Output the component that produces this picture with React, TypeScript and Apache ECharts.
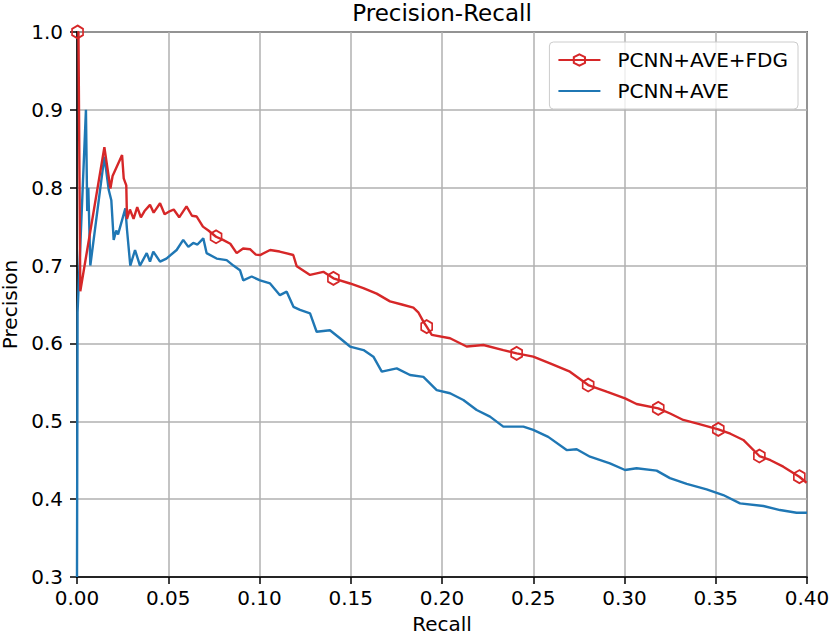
import React, { useEffect, useRef } from "react";
import * as echarts from "echarts";

const xTicks = [0, 0.05, 0.1, 0.15, 0.2, 0.25, 0.3, 0.35, 0.4];
const yTicks = [0.3, 0.4, 0.5, 0.6, 0.7, 0.8, 0.9, 1.0];

const fdgRecall = [
  0.0003, 0.0008, 0.0018, 0.015, 0.0183, 0.0195, 0.0247, 0.0256, 0.027, 0.0274,
  0.029, 0.031, 0.033, 0.035, 0.037, 0.04, 0.042, 0.0455, 0.048, 0.051,
  0.053, 0.056, 0.06, 0.063, 0.0656, 0.069, 0.072, 0.0762, 0.08, 0.084,
  0.0875, 0.091, 0.0948, 0.098, 0.1003, 0.1058, 0.111, 0.1185, 0.1204, 0.1277,
  0.135, 0.1405, 0.1496, 0.1569, 0.1642, 0.1715, 0.178, 0.1843, 0.187, 0.1898,
  0.1916, 0.1944, 0.2044, 0.2135, 0.2227, 0.2336, 0.2409, 0.25, 0.2592, 0.2701,
  0.2801, 0.2902, 0.3003, 0.3066, 0.3185, 0.325, 0.3322, 0.34, 0.3514, 0.358,
  0.3651, 0.3739, 0.38, 0.387, 0.3958, 0.3998,
];
const fdgPrecision = [
  1.0, 1.0, 0.667, 0.852, 0.799, 0.815, 0.842, 0.812, 0.803, 0.76,
  0.772, 0.76, 0.775, 0.762, 0.77, 0.778, 0.768, 0.78, 0.766, 0.77,
  0.772, 0.762, 0.776, 0.764, 0.763, 0.75, 0.745, 0.737, 0.733, 0.728,
  0.716, 0.722, 0.721, 0.714, 0.7135, 0.72, 0.718, 0.7136, 0.699, 0.688,
  0.692, 0.6836, 0.677, 0.671, 0.664, 0.654, 0.65, 0.646, 0.64, 0.628,
  0.6215, 0.611, 0.6066, 0.596, 0.598, 0.5915, 0.5873, 0.583, 0.5745, 0.5637,
  0.5466, 0.538, 0.5295, 0.5222, 0.5166, 0.51, 0.5017, 0.497, 0.4897, 0.484,
  0.476, 0.4554, 0.45, 0.4417, 0.4288, 0.421,
];
const fdgMarkerIndex = [0, 27, 41, 50, 56, 60, 64, 68, 71, 74];

const aveRecall = [
  0.0, 0.0003, 0.0049, 0.0056, 0.0062, 0.0073, 0.015, 0.0174, 0.0188, 0.0201,
  0.0215, 0.0225, 0.0265, 0.0274, 0.0292, 0.0318, 0.0345, 0.0382, 0.04, 0.0418,
  0.0455, 0.049, 0.0546, 0.0582, 0.061, 0.0637, 0.066, 0.0692, 0.071, 0.0765,
  0.082, 0.0857, 0.0893, 0.0911, 0.0957, 0.1003, 0.1058, 0.1112, 0.1149, 0.1186,
  0.1222, 0.1277, 0.1313, 0.1386, 0.1441, 0.1496, 0.157, 0.1624, 0.167, 0.1752,
  0.1825, 0.1898, 0.1971, 0.2044, 0.2117, 0.219, 0.2263, 0.2336, 0.2446, 0.25,
  0.2582, 0.2683, 0.2738, 0.2811, 0.292, 0.3003, 0.3066, 0.3176, 0.3249, 0.3341,
  0.345, 0.3541, 0.3633, 0.3761, 0.3852, 0.3943, 0.4,
];
const avePrecision = [
  0.3, 0.64, 0.9, 0.77, 0.8, 0.7, 0.84, 0.797, 0.784, 0.733,
  0.745, 0.74, 0.7735, 0.746, 0.7, 0.72, 0.7, 0.716, 0.705, 0.718,
  0.705, 0.709, 0.72, 0.733, 0.724, 0.729, 0.727, 0.735, 0.716, 0.709,
  0.707, 0.7, 0.694, 0.681, 0.686, 0.681, 0.677, 0.662, 0.6665, 0.647,
  0.643, 0.6387, 0.615, 0.617, 0.6066, 0.596, 0.5915, 0.583, 0.5637, 0.568,
  0.5594, 0.557, 0.54, 0.536, 0.5273, 0.5145, 0.506, 0.4931, 0.4931, 0.489,
  0.48, 0.463, 0.464, 0.4545, 0.446, 0.4374, 0.4396, 0.4366, 0.427, 0.4195,
  0.4126, 0.4053, 0.3946, 0.3912, 0.386, 0.3826, 0.3826,
];

const RED = "#d62728";
const BLUE = "#1f77b4";
const FONT = "DejaVu Sans";
const HEX = "path://M0,-1L0.866,-0.5L0.866,0.5L0,1L-0.866,0.5L-0.866,-0.5Z";

export default function App() {
  const ref = useRef<HTMLDivElement>(null);
  useEffect(() => {
    if (!ref.current) return;
    const chart = echarts.init(ref.current, null, { renderer: "svg" });
    const fdgData = fdgRecall.map((r, i) =>
      fdgMarkerIndex.includes(i)
        ? { value: [r, fdgPrecision[i]] }
        : { value: [r, fdgPrecision[i]], symbol: "none" }
    );
    const aveData = aveRecall.map((r, i) => [r, avePrecision[i]]);
    chart.setOption({
      animation: false,
      backgroundColor: "#ffffff",
      title: {
        text: "Precision-Recall",
        left: 442,
        top: 2,
        textAlign: "center",
        padding: 0,
        textStyle: {
          fontFamily: FONT,
          fontSize: 23,
          lineHeight: 22,
          fontWeight: "normal",
          color: "#000",
        },
      },
      legend: {
        orient: "vertical",
        right: 33,
        top: 42,
        align: "left",
        itemWidth: 42,
        itemHeight: 14,
        itemGap: 11,
        padding: [8, 10, 8, 8],
        borderColor: "#cccccc",
        borderWidth: 1,
        borderRadius: 4,
        backgroundColor: "rgba(255,255,255,0.8)",
        textStyle: { fontFamily: FONT, fontSize: 20, color: "#000", padding: [0, 0, 0, 12] },
        data: [
          { name: "PCNN+AVE+FDG" },
          { name: "PCNN+AVE", itemStyle: { color: "rgba(0,0,0,0)", borderWidth: 0, opacity: 0 } },
        ],
      },
      grid: {
        left: 77,
        right: 24,
        top: 32,
        bottom: 59,
        show: true,
        borderColor: "#000",
        borderWidth: 1.5,
        backgroundColor: "transparent",
        outerBoundsMode: "none",
        containLabel: false,
      },
      xAxis: {
        type: "value",
        min: xTicks[0],
        max: xTicks[xTicks.length - 1],
        interval: 0.05,
        name: "Recall",
        nameLocation: "middle",
        nameGap: 38,
        nameTextStyle: { fontFamily: FONT, fontSize: 20, lineHeight: 18, color: "#000" },
        axisLine: { show: true, lineStyle: { color: "#000", width: 1.5 } },
        axisTick: { show: true, length: 7, lineStyle: { color: "#000", width: 1.5 } },
        axisLabel: {
          margin: 11,
          fontFamily: FONT,
          fontSize: 20,
          color: "#000",
          formatter: (v: number) => v.toFixed(2),
        },
        splitLine: { show: true, lineStyle: { color: "#b0b0b0", width: 1.5 } },
      },
      yAxis: {
        type: "value",
        min: yTicks[0],
        max: yTicks[yTicks.length - 1],
        interval: 0.1,
        name: "Precision",
        nameLocation: "middle",
        nameGap: 51,
        nameTextStyle: { fontFamily: FONT, fontSize: 20, lineHeight: 16, color: "#000" },
        axisLine: { show: true, lineStyle: { color: "#000", width: 1.5 } },
        axisTick: { show: true, length: 7, lineStyle: { color: "#000", width: 1.5 } },
        axisLabel: {
          margin: 14,
          fontFamily: FONT,
          fontSize: 20,
          color: "#000",
          formatter: (v: number) => v.toFixed(1),
        },
        splitLine: { show: true, lineStyle: { color: "#b0b0b0", width: 1.5 } },
      },
      series: [
        {
          name: "PCNN+AVE+FDG",
          type: "line",
          data: fdgData,
          showSymbol: true,
          showAllSymbol: true,
          symbol: HEX,
          symbolSize: [11, 13],
          lineStyle: { color: RED, width: 2.4 },
          itemStyle: { color: "rgba(255,255,255,0)", borderColor: RED, borderWidth: 1.8 },
          z: 3,
        },
        {
          name: "PCNN+AVE",
          type: "line",
          data: aveData,
          showSymbol: false,
          lineStyle: { color: BLUE, width: 2.4 },
          itemStyle: { color: BLUE },
          z: 2,
        },
      ],
    });
    return () => chart.dispose();
  }, []);
  return (
    <div
      ref={ref}
      style={{ position: "fixed", left: 0, top: 0, width: 831, height: 636 }}
    />
  );
}
